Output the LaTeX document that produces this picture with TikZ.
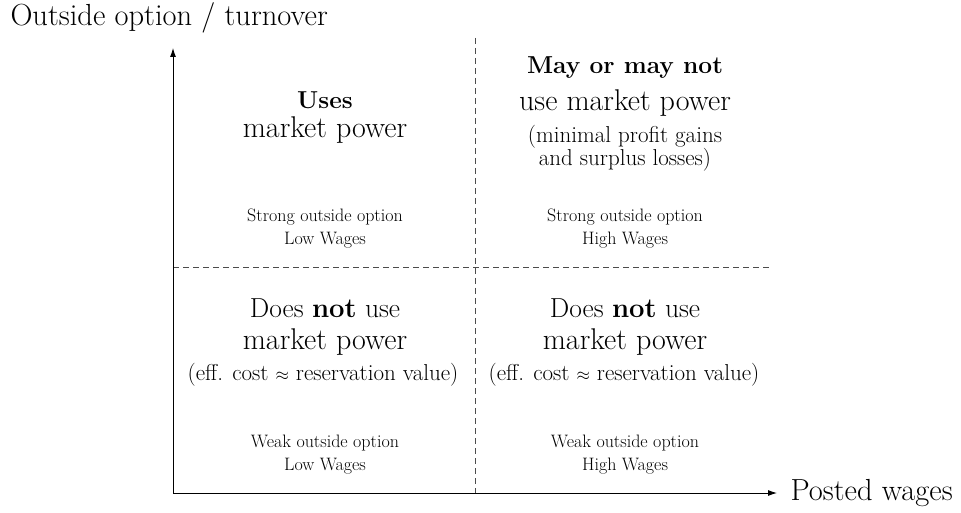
\documentclass[tikz,border=0pt]{standalone}
\usepackage{amsmath,amssymb}
\usepackage{tikz}
\usetikzlibrary{arrows,arrows.meta}

\begin{document}
\begin{tikzpicture}[x=1pt,
            y=1pt,
            >={Latex[length=9pt,width=6pt]},
            axis/.style={->,line width=0.9pt},
            divider/.style={dashed,line width=0.8pt,dash pattern=on 6pt off 4pt,black!70},
            axislabel/.style={font=\fontsize{30.5}{35}\selectfont},
            head/.style={font=\fontsize{24.5}{28}\selectfont\bfseries},
            big/.style={font=\fontsize{30}{34}\selectfont},
            mixed/.style={font=\fontsize{27.5}{31}\selectfont},
            note/.style={font=\fontsize{23}{26}\selectfont},
            small/.style={font=\fontsize{18}{21}\selectfont}]

        \useasboundingbox (0,0) rectangle (961,512);

        % axes and dividers
        \coordinate (o)    at (173,19);
        \coordinate (ytop) at (173,464);
        \coordinate (xend) at (777,19);
        \coordinate (vtop) at (475,474);
        \coordinate (vbot) at (475,19);
        \coordinate (hl)   at (173,245);
        \coordinate (hr)   at (771,245);

        \node[axislabel,anchor=base west] (ylab) at (7,486)  {Outside option / turnover};
        \node[axislabel,anchor=west]      (xlab) at (787,19) {Posted wages};

        \draw[divider] (vtop) -- (vbot);
        \draw[divider] (hl) -- (hr);
        \draw[axis] (o) -- (ytop);
        \draw[axis] (o) -- (xend);

        % top left
        \node[head]  (tl1) at (325,412) {Uses};
        \node[big]   (tl2) at (325,382) {market power};
        \node[small] (tl3) at (325,295) {Strong outside option};
        \node[small] (tl4) at (325,272) {Low Wages};

        % top right
        \node[head]  (tr1) at (625,444) {May or may not};
        \node[big]   (tr2) at (625,409) {use market power};
        \node[note]  (tr3) at (625,375) {(minimal profit gains};
        \node[note]  (tr4) at (625,352) {and surplus losses)};
        \node[small] (tr5) at (625,295) {Strong outside option};
        \node[small] (tr6) at (625,272) {High Wages};

        % bottom left
        \node[mixed] (bl1) at (325,204) {Does \textbf{not} use};
        \node[big]   (bl2) at (325,170) {market power};
        \node[note]  (bl3) at (323,137) {(eff. cost $\scriptstyle\approx$ reservation value)};
        \node[small] (bl4) at (325,69)  {Weak outside option};
        \node[small] (bl5) at (325,46)  {Low Wages};

        % bottom right
        \node[mixed] (br1) at (625,204) {Does \textbf{not} use};
        \node[big]   (br2) at (625,170) {market power};
        \node[note]  (br3) at (624,137) {(eff. cost $\scriptstyle\approx$ reservation value)};
        \node[small] (br4) at (625,69)  {Weak outside option};
        \node[small] (br5) at (625,46)  {High Wages};

    \end{tikzpicture}
\end{document}
